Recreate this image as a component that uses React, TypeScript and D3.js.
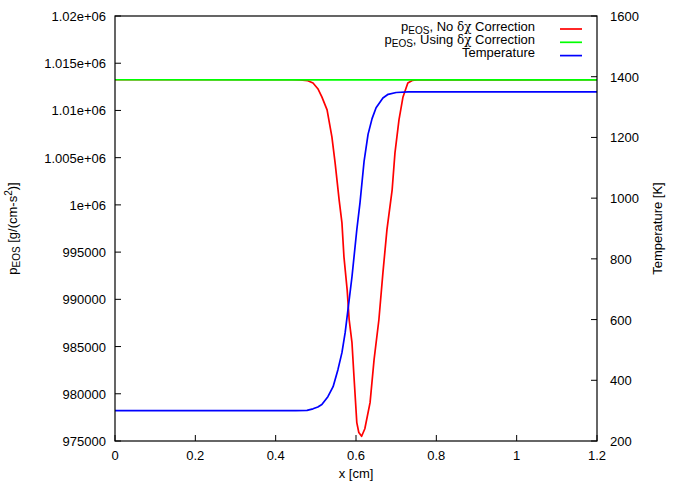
import * as d3 from 'd3'

// pressure without correction (red)
const redX = [0, 0.44, 0.461, 0.48, 0.493, 0.505, 0.515, 0.528, 0.54, 0.548, 0.558, 0.565, 0.57, 0.578, 0.583, 0.59, 0.595, 0.602, 0.607, 0.614, 0.622, 0.635, 0.645, 0.657, 0.667, 0.677, 0.69, 0.697, 0.707, 0.717, 0.729, 0.74, 0.752, 1.2]
const redP = [1013250, 1013250, 1013230, 1013150, 1012900, 1012300, 1011430, 1010060, 1007200, 1004450, 1000540, 998100, 994500, 991000, 987840, 985410, 981800, 976950, 975900, 975500, 976300, 979060, 983610, 987840, 992800, 997360, 1001600, 1005510, 1009000, 1011430, 1012910, 1013180, 1013240, 1013250]

// pressure with correction (green)
const greenX = [0, 0.6, 1.2]
const greenP = [1013250, 1013240, 1013240]

// temperature (blue, right axis)
const blueX = [0, 0.45, 0.478, 0.493, 0.505, 0.515, 0.53, 0.543, 0.555, 0.565, 0.573, 0.58, 0.59, 0.602, 0.61, 0.62, 0.63, 0.64, 0.65, 0.667, 0.68, 0.7, 0.73, 1.2]
const blueT = [300, 300, 301, 306, 312, 320, 346, 379, 435, 491, 557, 633, 741, 896, 985, 1120, 1210, 1262, 1298, 1330, 1342, 1348, 1350, 1350]

const xTicks = [0, 0.2, 0.4, 0.6, 0.8, 1, 1.2]
const yTicks = [975000, 980000, 985000, 990000, 995000, 1000000, 1005000, 1010000, 1015000, 1020000]
const yTickLabels = ['975000', '980000', '985000', '990000', '995000', '1e+06', '1.005e+06', '1.01e+06', '1.015e+06', '1.02e+06']
const y2Ticks = [200, 400, 600, 800, 1000, 1200, 1400, 1600]

const W = 692
const H = 485
const left = 115
const right = 597
const top = 16
const bottom = 441
const font = '"Liberation Sans", Arial, sans-serif'
const symFont = '"DejaVu Serif", "Liberation Serif", serif'

export default function App() {
  const x = d3.scaleLinear().domain([0, 1.2]).range([left, right])
  const y = d3.scaleLinear().domain([975000, 1020000]).range([bottom, top])
  const y2 = d3.scaleLinear().domain([200, 1600]).range([bottom, top])

  const line = d3.line<[number, number]>().x(d => d[0]).y(d => d[1])
  const redPath = line(redX.map((v, i) => [x(v), y(redP[i])]))
  const greenPath = line(greenX.map((v, i) => [x(v), y(greenP[i])]))
  const bluePath = line(blueX.map((v, i) => [x(v), y2(blueT[i])]))

  const legend = [
    { color: '#ff0000', label: 'No', rest: ' Correction', p: true },
    { color: '#00ff00', label: 'Using', rest: ' Correction', p: true },
    { color: '#0000ff', label: 'Temperature', rest: '', p: false },
  ]

  return (
    <svg width={W} height={H} style={{ position: 'absolute', left: 0, top: 0, background: '#fff' }}
      fontFamily={font} fontSize={13}>
      <rect x={0} y={0} width={W} height={H} fill="#fff" />

      {/* ticks */}
      {xTicks.map(t => (
        <g key={'x' + t}>
          <line x1={x(t)} x2={x(t)} y1={bottom} y2={bottom - 6} stroke="#000" />
          <text x={x(t)} y={bottom + 19} textAnchor="middle">{d3.format('')(t)}</text>
        </g>
      ))}
      {yTicks.map((t, i) => (
        <g key={'y' + t}>
          <line x1={left} x2={left + 6} y1={y(t)} y2={y(t)} stroke="#000" />
          <text x={106} y={y(t) + 5} textAnchor="end">{yTickLabels[i]}</text>
        </g>
      ))}
      {y2Ticks.map(t => (
        <g key={'y2' + t}>
          <line x1={right} x2={right - 6} y1={y2(t)} y2={y2(t)} stroke="#000" />
          <text x={610} y={y2(t) + 5} textAnchor="start">{t}</text>
        </g>
      ))}

      {/* data, drawn in gnuplot order */}
      <g fill="none" strokeWidth={1.7} strokeLinejoin="round">
        <path d={redPath ?? ''} stroke="#ff0000" />
        <path d={greenPath ?? ''} stroke="#00ff00" />
        <path d={bluePath ?? ''} stroke="#0000ff" />
      </g>

      <rect x={left} y={top} width={right - left} height={bottom - top} fill="none" stroke="#000" strokeWidth={1.2} />

      {/* legend */}
      {legend.map((l, i) => (
        <g key={i}>
          {l.p ? (
            <text x={535} y={30.5 + i * 13.3} textAnchor="end">
              p<tspan fontSize={10} dy={3}>EOS</tspan>
              <tspan dy={-3}>{', ' + l.label + ' '}</tspan>
              <tspan fontFamily={symFont} fontSize={12}>δχ</tspan>
              <tspan>{l.rest}</tspan>
            </text>
          ) : (
            <text x={535} y={30.5 + i * 13.3} textAnchor="end">{l.label}</text>
          )}
          <line x1={560} x2={582} y1={29 + i * 13.3} y2={29 + i * 13.3} stroke={l.color} strokeWidth={1.7} />
        </g>
      ))}

      {/* axis titles */}
      <text x={356} y={478} textAnchor="middle">x [cm]</text>
      <text transform={`translate(17,${(top + bottom) / 2}) rotate(-90)`} textAnchor="middle">
        p<tspan fontSize={10} dy={3}>EOS</tspan><tspan dy={-3}> [g/(cm-s</tspan><tspan fontSize={10} dy={-5}>2</tspan><tspan dy={5}>)]</tspan>
      </text>
      <text transform={`translate(662,${(top + bottom) / 2}) rotate(-90)`} textAnchor="middle">Temperature [K]</text>
    </svg>
  )
}
